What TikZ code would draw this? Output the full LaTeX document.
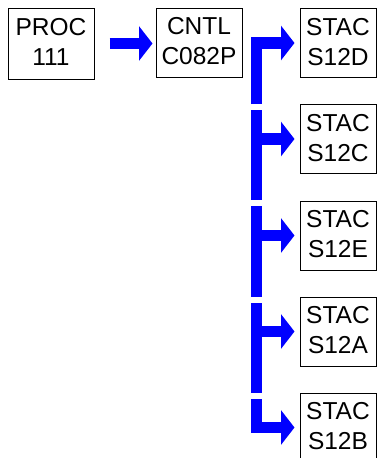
\documentclass[tikz,border=0pt]{standalone}
\usepackage{fontspec}
\setmainfont{Liberation Sans}
\usetikzlibrary{arrows.meta}
\begin{document}
\begin{tikzpicture}[x=1pt,y=-1pt,
  box/.style={draw=black, line width=1pt, minimum width=86pt, minimum height=69pt,
    inner sep=0pt, align=center, font=\fontsize{24.5}{30}\selectfont, text depth=2.5pt},
  stacbox/.style={box, minimum width=76pt},
  flow/.style={draw=blue, line width=11.5pt, line join=miter},
  tipped/.style={-{Triangle[length=13.5pt,width=34pt]}, shorten >=5pt}
]
\clip (0,0) rectangle (377,458);
\useasboundingbox (0,0) rectangle (377,458);
\node[box, minimum height=71pt] (proc) at (51,43.5) {PROC\\111};
\node[box] (cntl) at (199,42.5) {CNTL\\C082P};
\node[stacbox] (s1) at (338,43) {STAC\\S12D};
\node[stacbox] (s2) at (338,139) {STAC\\S12C};
\node[stacbox] (s3) at (338,235.5) {STAC\\S12E};
\node[stacbox] (s4) at (338,331.5) {STAC\\S12A};
\node[stacbox] (s5) at (338,427.5) {STAC\\S12B};
% trunk pieces
\coordinate (t1) at (256.5,104);
\coordinate (t2a) at (256.5,110);
\coordinate (t2b) at (256.5,200);
\coordinate (t3a) at (256.5,206);
\coordinate (t3b) at (256.5,297);
\coordinate (t4a) at (256.5,303);
\coordinate (t4b) at (256.5,393);
\coordinate (t5) at (256.5,399);
% main arrow
\draw[flow, -{Triangle[length=13.5pt,width=34pt]}, shorten <=15pt, shorten >=3pt]
  (proc.east) -- (proc.east -| cntl.west);
% branches
\draw[flow, tipped] (t1) |- (s1.west);
\draw[flow] (t2a) -- (t2b);
\draw[flow, tipped] (t2a |- s2.west) -- (s2.west);
\draw[flow] (t3a) -- (t3b);
\draw[flow, tipped] (t3a |- s3.west) -- (s3.west);
\draw[flow] (t4a) -- (t4b);
\draw[flow, tipped] (t4a |- s4.west) -- (s4.west);
\draw[flow, tipped] (t5) |- (s5.west);
\end{tikzpicture}
\end{document}
